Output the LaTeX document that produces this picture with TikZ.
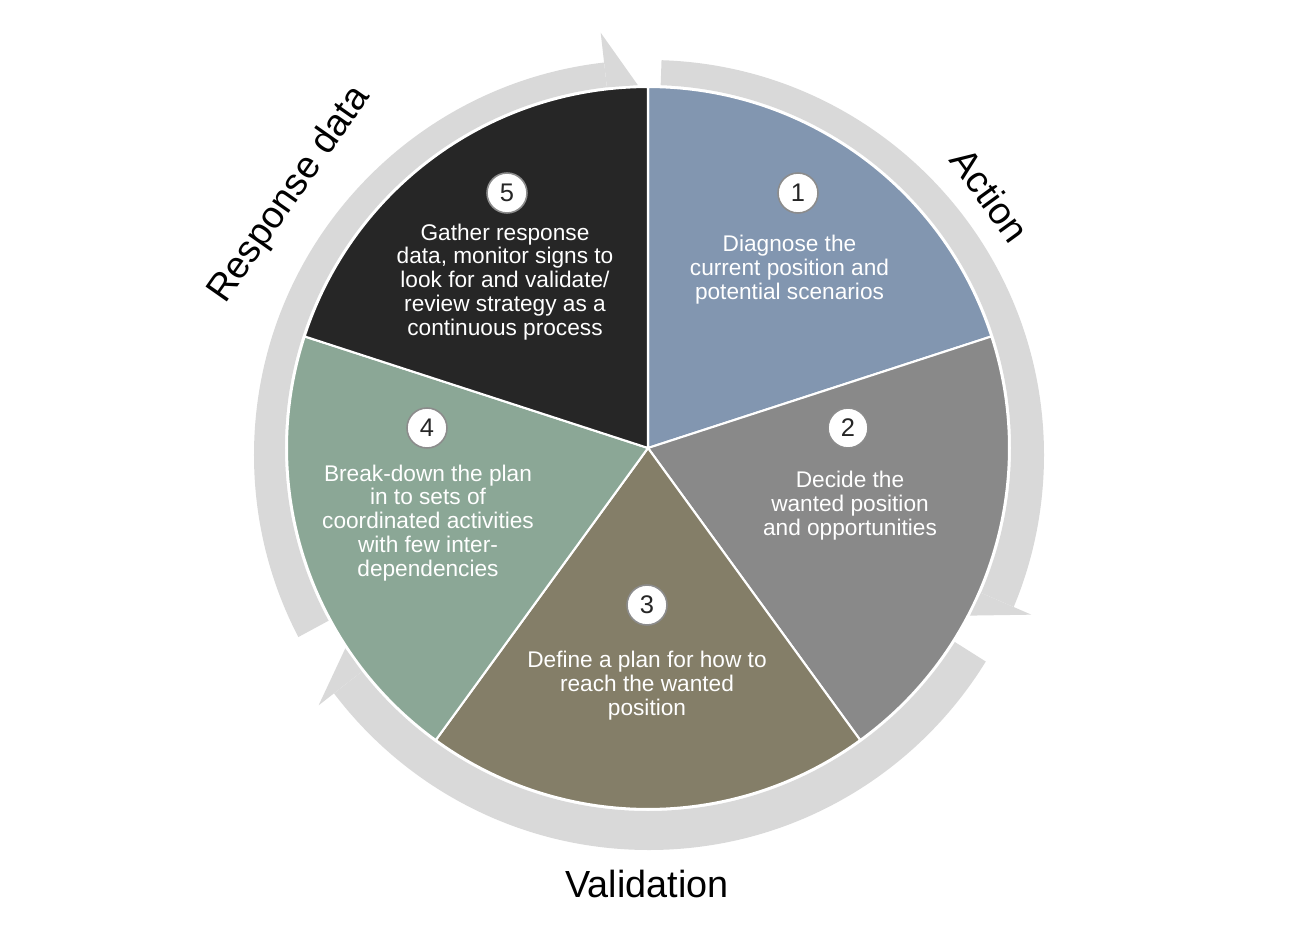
\documentclass[tikz,border=0pt]{standalone}
\usepackage{fontspec}
\setmainfont{Liberation Sans}
\usepackage{tikz}
\usepackage{xcolor}
\definecolor{cSliceA}{RGB}{130,150,176}
\definecolor{cSliceB}{RGB}{137,137,137}
\definecolor{cSliceC}{RGB}{132,126,104}
\definecolor{cSliceD}{RGB}{139,167,150}
\definecolor{cSliceE}{RGB}{38,38,38}
\definecolor{cRing}{RGB}{217,217,217}
\definecolor{cNumEdge}{RGB}{140,140,140}
\definecolor{cDark}{RGB}{38,38,38}
\tikzset{
	slice/.style    ={draw=white, line width=1.2pt},
	numdot/.style   ={circle, draw=cNumEdge, line width=0.9pt, fill=white, minimum size=0.8cm, inner sep=0pt, text=cDark, font=\fontsize{14.5}{16}\selectfont},
	steptext/.style ={text=white, align=center, inner sep=0pt, font=\fontsize{12.9}{13.6}\selectfont},
	phase/.style    ={text=black, inner sep=0pt, font=\fontsize{21.5}{24}\selectfont},
}

\begin{document}
\begin{tikzpicture}[x=0.02cm, y=0.02cm]
	\useasboundingbox (-648,-482) rectangle (659,448);
	% ring arrows: start / end of shaft / tip
	\foreach \a/\b/\t in {88/-23.5/-27.5, -32.3/-142/-146.5, 208.4/96.5/91.6} {
		\begin{scope}
			\clip (0,0) -- (\a:600) arc[start angle=\a, end angle=\b, radius=600] -- cycle;
			\fill[cRing, even odd rule] (1,-7) circle[radius=395] (0,0) circle[radius=363];
		\end{scope}
		\fill[cRing] (\b:363) -- (\b:418) -- (\t:363) -- cycle;
	}
	% pie
	\foreach \s/\e/\c in {90/18/cSliceA, 18/-54/cSliceB, -54/-126/cSliceC, -126/-198/cSliceD, 162/90/cSliceE}
		\filldraw[slice, fill=\c] (0,0) -- (\s:361) arc[start angle=\s, end angle=\e, radius=361] -- cycle;
	% steps
	\node[numdot] (num1) at (150,255) {1};
	\node[steptext] (txt1) at (141.5,178) {Diagnose the\\current position and\\potential scenarios};
	\node[numdot] (num2) at (200,20) {2};
	\node[steptext] (txt2) at (202,-58) {Decide the\\wanted position\\and opportunities};
	\node[numdot] (num3) at (-1,-157) {3};
	\node[steptext] (txt3) at (-1,-238) {Define a plan for how to\\reach the wanted\\position};
	\node[numdot] (num4) at (-221,20) {4};
	\node[steptext] (txt4) at (-220,-75) {Break-down the plan\\in to sets of\\coordinated activities\\with few inter-\\dependencies};
	\node[numdot] (num5) at (-141,255) {5};
	\node[steptext] (txt5) at (-143,166) {Gather response\\data, monitor signs to\\look for and validate/\\review strategy as a\\continuous process};
	% phase labels
	\node[phase, rotate=-54] (lblAction) at (342,253) {Action};
	\node[phase] (lblValid) at (-1,-436) {Validation};
	\node[phase, rotate=55] (lblResp) at (-358,253) {Response data};
\end{tikzpicture}
\end{document}
